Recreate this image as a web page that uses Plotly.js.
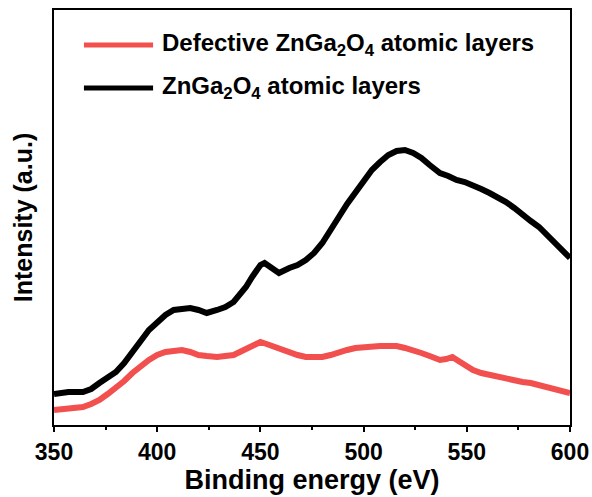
<!DOCTYPE html>
<html>
<head>
<meta charset="utf-8">
<script src="https://cdn.plot.ly/plotly-3.0.1.min.js"></script>
<style>html,body{margin:0;padding:0;background:#fff;}#chart{width:592px;height:497px;}</style>
</head>
<body>
<div id="chart"></div>
<script>
// Binding energy (eV) and intensity (a.u.)
const energyBlack = [350,357,364,368,372,376,380,384,388,392,396,401,404,408,412,416,420,424,429,433,437,440,443,446,448,450,452,455,459,464,468,472,476,480,484,488,492,496,500,504,508,512,516,520,524,528,532,537,541,545,549,553,557,561,565,569,573,577,581,585,589,593,597,600];
const intensityBlack = [31,33,33,36,42,47,53,62,72,84,95,105,110,115,116,117,115,112,115,118,123,130,138,148,155,160,162,158,152,157,160,165,172,182,194,208,221,233,245,255,263,270,274,275,272,267,260,252,249,245,243,240,236,232,228,223,217,210,204,198,190,182,173,167];
const energyRed = [350,357,364,368,372,376,380,384,388,392,396,400,404,408,412,416,420,424,429,433,437,441,445,448,450,453,458,464,468,472,476,480,484,488,492,496,500,504,508,512,516,520,524,528,532,537,540,543,546,550,553,557,561,565,569,573,577,581,585,589,593,597,600];
const intensityRed = [15,17,18,21,25,31,37,44,52,59,65,70,73,74,75,73,70,69,68,69,70,74,78,81,83,81,77,72,70,68,68,68,70,73,75,77,78,78,79,79,79,77,75,72,69,65,66,68,64,59,55,52,50,49,47,45,43,42,40,38,37,35,32];
const seriesNames = ['Defective ZnGa<sub>2</sub>O<sub>4</sub> atomic layers', 'ZnGa<sub>2</sub>O<sub>4</sub> atomic layers'];
const xTickVals = [350,400,450,500,550,600];
const xTickText = ['350','400','450','500','550','600'];

const RED = '#f24f4f';
const FONT = 'Arial, "Liberation Sans", sans-serif';

const traces = [
  {x: energyBlack, y: intensityBlack, type: 'scatter', mode: 'lines', name: seriesNames[1],
   line: {color: '#000', width: 6}, showlegend: false},
  {x: energyRed, y: intensityRed, type: 'scatter', mode: 'lines', name: seriesNames[0],
   line: {color: RED, width: 6}, showlegend: false}
];

const legY = [0.9157, 0.812];
const legColors = [RED, '#000'];
const shapes = [];
const annotations = [];
for (let i = 0; i < 2; i++) {
  shapes.push({type: 'line', xref: 'paper', yref: 'paper', x0: 0.058, x1: 0.192, y0: legY[i], y1: legY[i],
    line: {color: legColors[i], width: 5}});
  annotations.push({xref: 'paper', yref: 'paper', x: 0.205, y: legY[i] + 0.002, xanchor: 'left', yanchor: 'middle',
    text: '<b>' + seriesNames[i] + '</b>', showarrow: false, font: {family: FONT, size: 24, color: '#000'}});
}

const layout = {
  width: 592, height: 497,
  margin: {l: 54, r: 22, t: 10, b: 72},
  paper_bgcolor: '#fff', plot_bgcolor: '#fff',
  font: {family: FONT, color: '#000'},
  showlegend: false,
  xaxis: {
    range: [350, 600], showgrid: false, zeroline: false,
    showline: true, linecolor: '#000', linewidth: 2, mirror: true,
    ticks: 'outside', ticklen: 5, tickwidth: 2, tickcolor: '#000',
    tickvals: xTickVals, ticktext: xTickText,
    tickfont: {family: FONT, size: 23, color: '#000', weight: 'bold'},
    minor: {dtick: 25, tick0: 350, ticks: 'outside', ticklen: 3, tickwidth: 2, tickcolor: '#000', showgrid: false},
    title: {text: '<b>Binding energy (eV)</b>', font: {family: FONT, size: 27, color: '#000'}, standoff: 6}
  },
  yaxis: {
    range: [0, 415], showgrid: false, zeroline: false,
    showline: true, linecolor: '#000', linewidth: 2, mirror: true,
    ticks: '', showticklabels: false,
    title: {text: '<b>Intensity (a.u.)</b>', font: {family: FONT, size: 25, color: '#000'}, standoff: 12}
  },
  shapes: shapes,
  annotations: annotations
};

Plotly.newPlot('chart', traces, layout, {displayModeBar: false, staticPlot: true});
</script>
</body>
</html>
